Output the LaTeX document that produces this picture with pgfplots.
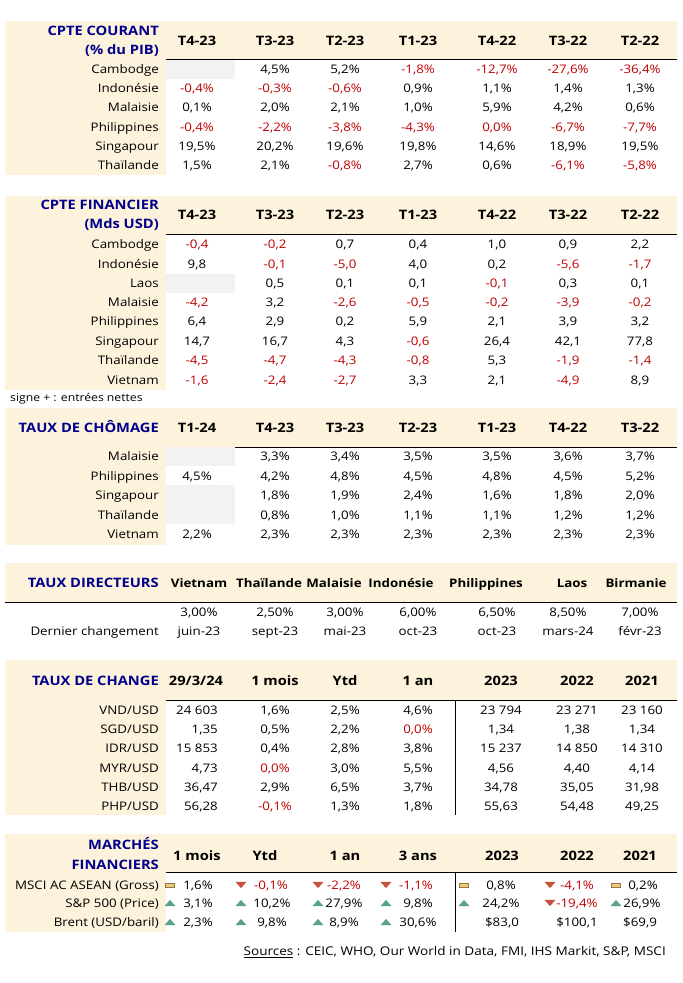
\documentclass[border=0pt]{standalone}
\usepackage{pgfplots}
\pgfplotsset{compat=1.18}
\usepackage{fontspec}
\setmainfont{Open Sans}[FakeStretch=1.13]
\definecolor{bandcol}{RGB}{253,242,219}
\definecolor{navy}{RGB}{0,0,140}
\definecolor{negred}{RGB}{192,0,0}
\definecolor{cellgrey}{RGB}{242,242,242}
\definecolor{upcol}{RGB}{90,160,140}
\definecolor{dncol}{RGB}{200,80,60}
\definecolor{flatcol}{RGB}{240,200,120}

\newcommand{\R}[1]{\textcolor{negred}{#1}}
\protected\def\body{\fontsize{11.8}{14}\selectfont}
\protected\def\hd{\fontsize{13}{15}\selectfont\bfseries}
\protected\def\hdn{\fontsize{11.8}{14}\selectfont\bfseries}
\protected\def\smallf{\fontsize{10.8}{12}\selectfont}
\protected\def\srcf{\fontsize{12}{14}\selectfont}
% one text cell; the arguments are expanded now, since the axis replays its commands later
\newcommand{\cellat}[4][anchor=base]{\edef\tmp{\noexpand\node[#1, yshift=-4.3pt] at (axis cs:#2,#3) {\unexpanded{#4}};}\tmp}
\newcommand{\lab}[2]{\cellat[anchor=base east]{159}{#1}{#2}}
\def\aopt{anchor=base}
\newcommand{\trow}[9]{\lab{#1}{#2}\cellat[\aopt]{\cA}{#1}{#3}\cellat{\cB}{#1}{#4}\cellat{\cC}{#1}{#5}%
  \cellat{\cD}{#1}{#6}\cellat{\cE}{#1}{#7}\cellat{\cF}{#1}{#8}\cellat{\cG}{#1}{#9}}
\newcommand{\hrow}[8]{\cellat[anchor=base,font=\hd]{\cA}{#1}{#2}\cellat[anchor=base,font=\hd]{\cB}{#1}{#3}%
  \cellat[anchor=base,font=\hd]{\cC}{#1}{#4}\cellat[anchor=base,font=\hd]{\cD}{#1}{#5}%
  \cellat[anchor=base,font=\hd]{\cE}{#1}{#6}\cellat[anchor=base,font=\hd]{\cF}{#1}{#7}%
  \cellat[anchor=base,font=\hd]{\cG}{#1}{#8}}
\newcommand{\ttl}[2]{\cellat[anchor=base east,font=\hd,text=navy]{159}{#1}{#2}}
\newcommand{\band}[3]{\fill[bandcol] (axis cs:5,#1) rectangle (axis cs:677,#2);
  \draw[line width=1pt] (axis cs:5,#2) -- (axis cs:677,#2);
  \fill[bandcol] (axis cs:5,#2) rectangle (axis cs:166,#3);}
\newcommand{\grey}[2]{\fill[cellgrey] (axis cs:166,#1) rectangle (axis cs:235,#2);}

\begin{document}
\begin{tikzpicture}[every node/.append style={inner sep=0pt, font=\body}]
\begin{axis}[scale only axis, width=683pt, height=983pt, xmin=0, xmax=683, ymin=0, ymax=983,
  y dir=reverse, hide axis, clip=false]
\fill[white] (axis cs:0,0) rectangle (axis cs:683,983);

% ---- compte courant
\band{21}{59}{175}
\grey{60}{79}
\ttl{31}{CPTE COURANT}
\ttl{50}{(\% du PIB)}
\def\cA{197}\def\cB{275}\def\cC{345}\def\cD{418}\def\cE{497}\def\cF{568}\def\cG{640}
\hrow{41}{T4-23}{T3-23}{T2-23}{T1-23}{T4-22}{T3-22}{T2-22}
\trow{69}{Cambodge}{}{4,5\%}{5,2\%}{\R{-1,8\%}}{\R{-12,7\%}}{\R{-27,6\%}}{\R{-36,4\%}}
\trow{88}{Indonésie}{\R{-0,4\%}}{\R{-0,3\%}}{\R{-0,6\%}}{0,9\%}{1,1\%}{1,4\%}{1,3\%}
\trow{107}{Malaisie}{0,1\%}{2,0\%}{2,1\%}{1,0\%}{5,9\%}{4,2\%}{0,6\%}
\trow{127}{Philippines}{\R{-0,4\%}}{\R{-2,2\%}}{\R{-3,8\%}}{\R{-4,3\%}}{\R{0,0\%}}{\R{-6,7\%}}{\R{-7,7\%}}
\trow{146}{Singapour}{19,5\%}{20,2\%}{19,6\%}{19,8\%}{14,6\%}{18,9\%}{19,5\%}
\trow{165}{Thaïlande}{1,5\%}{2,1\%}{\R{-0,8\%}}{2,7\%}{0,6\%}{\R{-6,1\%}}{\R{-5,8\%}}

% ---- compte financier
\band{196}{234}{390}
\grey{274}{293}
\ttl{205}{CPTE FINANCIER}
\ttl{224}{(Mds USD)}
\hrow{215}{T4-23}{T3-23}{T2-23}{T1-23}{T4-22}{T3-22}{T2-22}
\trow{244}{Cambodge}{\R{-0,4}}{\R{-0,2}}{0,7}{0,4}{1,0}{0,9}{2,2}
\trow{264}{Indonésie}{9,8}{\R{-0,1}}{\R{-5,0}}{4,0}{0,2}{\R{-5,6}}{\R{-1,7}}
\trow{283}{Laos}{}{0,5}{0,1}{0,1}{\R{-0,1}}{0,3}{0,1}
\trow{302}{Malaisie}{\R{-4,2}}{3,2}{\R{-2,6}}{\R{-0,5}}{\R{-0,2}}{\R{-3,9}}{\R{-0,2}}
\trow{321}{Philippines}{6,4}{2,9}{0,2}{5,9}{2,1}{3,9}{3,2}
\trow{341}{Singapour}{14,7}{16,7}{4,3}{\R{-0,6}}{26,4}{42,1}{77,8}
\trow{360}{Thaïlande}{\R{-4,5}}{\R{-4,7}}{\R{-4,3}}{\R{-0,8}}{5,3}{\R{-1,9}}{\R{-1,4}}
\trow{380}{Vietnam}{\R{-1,6}}{\R{-2,4}}{\R{-2,7}}{3,3}{2,1}{\R{-4,9}}{8,9}
\cellat[anchor=base west,font=\smallf]{10}{397}{signe + : entrées nettes}

% ---- chomage
\band{408}{447}{545}
\grey{447}{466}
\grey{485}{524}
\ttl{428}{TAUX DE CHÔMAGE}
\hrow{428}{T1-24}{T4-23}{T3-23}{T2-23}{T1-23}{T4-22}{T3-22}
\trow{456}{Malaisie}{}{3,3\%}{3,4\%}{3,5\%}{3,5\%}{3,6\%}{3,7\%}
\trow{476}{Philippines}{4,5\%}{4,2\%}{4,8\%}{4,5\%}{4,8\%}{4,5\%}{5,2\%}
\trow{495}{Singapour}{}{1,8\%}{1,9\%}{2,4\%}{1,6\%}{1,8\%}{2,0\%}
\trow{515}{Thaïlande}{}{0,8\%}{1,0\%}{1,1\%}{1,1\%}{1,2\%}{1,2\%}
\trow{534}{Vietnam}{2,2\%}{2,3\%}{2,3\%}{2,3\%}{2,3\%}{2,3\%}{2,3\%}

% ---- taux directeurs
\fill[bandcol] (axis cs:5,563) rectangle (axis cs:677,602);
\draw[line width=1pt] (axis cs:5,602) -- (axis cs:677,602);
\ttl{583}{TAUX DIRECTEURS}
\cellat[anchor=base,font=\hdn]{199}{583}{Vietnam}
\cellat[anchor=base,font=\hdn]{269}{583}{Thaïlande}
\cellat[anchor=base,font=\hdn]{334}{583}{Malaisie}
\cellat[anchor=base,font=\hdn]{401}{583}{Indonésie}
\cellat[anchor=base,font=\hdn]{486}{583}{Philippines}
\cellat[anchor=base,font=\hdn]{572}{583}{Laos}
\cellat[anchor=base,font=\hdn]{636}{583}{Birmanie}
\def\cA{199}
\trow{612}{}{3,00\%}{2,50\%}{3,00\%}{6,00\%}{6,50\%}{8,50\%}{7,00\%}
\trow{631}{Dernier changement}{juin-23}{sept-23}{mai-23}{oct-23}{oct-23}{mars-24}{févr-23}

% ---- taux de change
\band{660}{700}{815}
\draw[line width=0.7pt] (axis cs:455,700) -- (axis cs:455,815);
\ttl{681}{TAUX DE CHANGE}
\def\cA{196}\def\cE{501}\def\cF{577}\def\cG{642}
\hrow{681}{29/3/24}{1 mois}{Ytd}{1 an}{2023}{2022}{2021}
\def\cA{218}\def\aopt{anchor=base east}
\trow{710}{VND/USD}{24 603}{1,6\%}{2,5\%}{4,6\%}{23 794}{23 271}{23 160}
\trow{729}{SGD/USD}{1,35}{0,5\%}{2,2\%}{\R{0,0\%}}{1,34}{1,38}{1,34}
\trow{748}{IDR/USD}{15 853}{0,4\%}{2,8\%}{3,8\%}{15 237}{14 850}{14 310}
\trow{768}{MYR/USD}{4,73}{\R{0,0\%}}{3,0\%}{5,5\%}{4,56}{4,40}{4,14}
\trow{787}{THB/USD}{36,47}{2,9\%}{6,5\%}{3,7\%}{34,78}{35,05}{31,98}
\trow{806}{PHP/USD}{56,28}{\R{-0,1\%}}{1,3\%}{1,8\%}{55,63}{54,48}{49,25}

% ---- marches financiers
\band{834}{872}{932}
\draw[line width=0.7pt] (axis cs:455,872) -- (axis cs:455,932);
\ttl{845}{MARCHÉS}
\ttl{865}{FINANCIERS}
\def\cA{197}\def\cB{265}\def\cC{345}\def\cD{418}\def\cE{502}\def\cF{577}\def\cG{640}
\hrow{856}{1 mois}{Ytd}{1 an}{3 ans}{2023}{2022}{2021}
\lab{885}{MSCI AC ASEAN (Gross)}
\lab{903}{S\&P 500 (Price)}
\lab{922}{Brent (USD/baril)}
\addplot[only marks, mark=square*, mark options={xscale=1.7, yscale=0.75, fill=flatcol, draw=flatcol!60!black, line width=0.3pt}, mark size=2.6pt]
  coordinates {(170,885) (464,885) (616,885)};
\addplot[only marks, mark=triangle*, mark size=3.7pt, mark options={xscale=1.55, rotate=180, fill=dncol, draw=dncol}]
  coordinates {(241,884) (318,884) (386,884) (550,884) (550,902)};
\addplot[only marks, mark=triangle*, mark size=3.7pt, mark options={xscale=1.55, fill=upcol, draw=upcol}]
  coordinates {(170,904) (241,904) (318,904) (386,904) (464,904) (616,904)
               (170,923) (241,923) (318,923) (386,923)};
\cellat{198}{885}{1,6\%}\cellat{271}{885}{\R{-0,1\%}}\cellat{344}{885}{\R{-2,2\%}}\cellat{416}{885}{\R{-1,1\%}}
\cellat{501}{885}{0,8\%}\cellat{577}{885}{\R{-4,1\%}}\cellat{643}{885}{0,2\%}
\cellat{198}{903}{3,1\%}\cellat{272}{903}{10,2\%}\cellat{344}{903}{27,9\%}\cellat{418}{903}{9,8\%}
\cellat{501}{903}{24,2\%}\cellat{577}{903}{\R{-19,4\%}}\cellat{642}{903}{26,9\%}
\cellat{198}{922}{2,3\%}\cellat{272}{922}{9,8\%}\cellat{344}{922}{8,9\%}\cellat{418}{922}{30,6\%}
\cellat{502}{922}{\$83,0}\cellat{577}{922}{\$100,1}\cellat{640}{922}{\$69,9}

\cellat[anchor=base east,font=\srcf]{666}{951}{\underline{Sources} : CEIC, WHO, Our World in Data, FMI, IHS Markit, S\&P, MSCI}
\end{axis}
\end{tikzpicture}
\end{document}
